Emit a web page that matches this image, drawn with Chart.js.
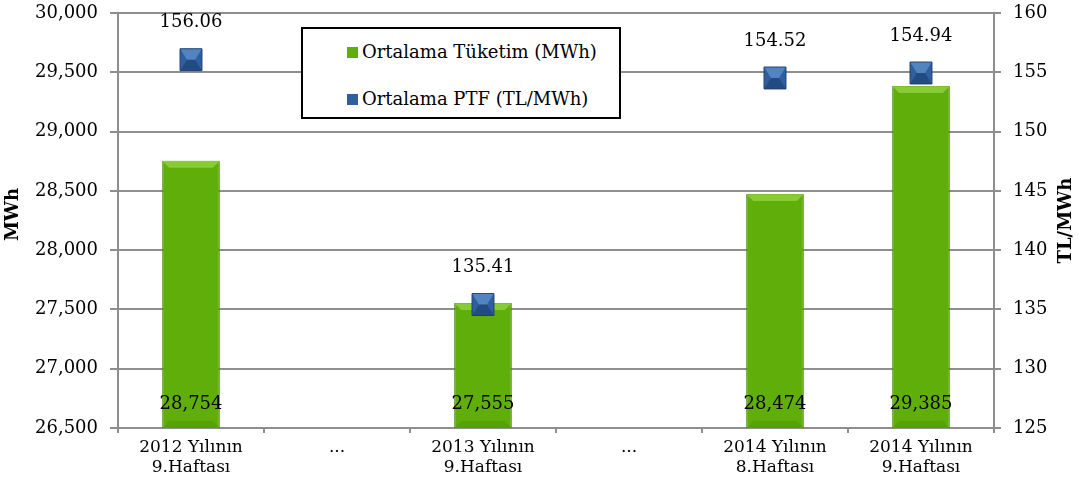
<!DOCTYPE html>
<html>
<head>
<meta charset="utf-8">
<script src="https://cdn.jsdelivr.net/npm/chart.js@4/dist/chart.umd.min.js"></script>
<style>
  html, body { margin: 0; padding: 0; background: #fff; }
  #wrap { position: relative; width: 1079px; height: 496px; }
  #legend {
    position: absolute; left: 301px; top: 27px; width: 316px; height: 88px;
    border: 2px solid #000; background: #fff;
    font-family: 'DejaVu Serif', serif; font-size: 18px; color: #000;
  }
  #legend .item { position: absolute; left: 44px; white-space: nowrap; line-height: 22px; }
  #legend .sw { display: inline-block; width: 11px; height: 11px; margin-right: 4px; vertical-align: 0px; }
</style>
</head>
<body>
<div id="wrap">
  <canvas id="chart" width="1079" height="496"></canvas>
  <div id="legend"></div>
</div>
<script>
  // ── Data ──
  var categories = [
    ['2012 Yılının', '9.Haftası'],
    '...',
    ['2013 Yılının', '9.Haftası'],
    '...',
    ['2014 Yılının', '8.Haftası'],
    ['2014 Yılının', '9.Haftası']
  ];
  var consumption = [28754, null, 27555, null, 28474, 29385];   // MWh
  var ptf = [156.06, null, 135.41, null, 154.52, 154.94];         // TL/MWh
  var seriesNames = ['Ortalama Tüketim (MWh)', 'Ortalama PTF (TL/MWh)'];
  var leftAxis = { min: 26500, max: 30000, step: 500, title: 'MWh' };
  var rightAxis = { min: 125, max: 160, step: 5, title: 'TL/MWh' };

  var FONT = "'DejaVu Serif', serif";
  var gridGray = '#8e8e8e';
  var green = '#5fae0a';
  var blue = '#2f5f9e';

  Chart.defaults.font.family = FONT;
  Chart.defaults.font.size = 18;
  Chart.defaults.color = '#000';

  function fmtThousands(v) {
    return Math.round(v).toString().replace(/\B(?=(\d{3})+(?!\d))/g, ',');
  }

  // bar fill: horizontal gradient for the glossy column look
  function barFill(context) {
    var chart = context.chart;
    var el = context.element;
    if (!chart.chartArea || !el || !isFinite(el.x) || !isFinite(el.width)) return green;
    var x0 = el.x - el.width / 2, x1 = el.x + el.width / 2;
    var g = chart.ctx.createLinearGradient(x0, 0, x1, 0);
    g.addColorStop(0, '#6ec414');
    g.addColorStop(0.12, '#64b40b');
    g.addColorStop(0.85, '#5cab08');
    g.addColorStop(1, '#417e04');
    return g;
  }

  // ── Bevel decoration on bars and markers ──
  var bevelPlugin = {
    id: 'bevel',
    afterDatasetDraw: function (chart, args) {
      var ctx = chart.ctx;
      var meta = args.meta;
      var area = chart.chartArea;
      ctx.save();
      meta.data.forEach(function (el, i) {
        if (meta.type === 'bar') {
          if (consumption[i] == null) return;
          var l = el.x - el.width / 2, r = el.x + el.width / 2, t = el.y, e = 7;
          var b = Math.min(el.base, area.bottom);
          ctx.fillStyle = 'rgba(170,230,90,0.55)';
          ctx.beginPath();
          ctx.moveTo(l, t); ctx.lineTo(r, t); ctx.lineTo(r - e, t + e); ctx.lineTo(l + e, t + e); ctx.closePath();
          ctx.fill();
          ctx.fillStyle = 'rgba(40,90,0,0.15)';
          ctx.beginPath();
          ctx.moveTo(l, b); ctx.lineTo(r, b); ctx.lineTo(r - e, b - e); ctx.lineTo(l + e, b - e); ctx.closePath();
          ctx.fill();
        } else {
          if (ptf[i] == null) return;
          var s = 10.5, x = el.x, y = el.y, k = 4;
          ctx.fillStyle = 'rgba(120,170,230,0.5)';
          ctx.beginPath();
          ctx.moveTo(x - s, y - s); ctx.lineTo(x + s, y - s); ctx.lineTo(x + k, y); ctx.lineTo(x - k, y); ctx.closePath();
          ctx.fill();
          ctx.fillStyle = 'rgba(10,30,70,0.3)';
          ctx.beginPath();
          ctx.moveTo(x - s, y + s); ctx.lineTo(x + s, y + s); ctx.lineTo(x + k, y); ctx.lineTo(x - k, y); ctx.closePath();
          ctx.fill();
        }
      });
      ctx.restore();
    }
  };

  // ── Value labels ──
  var valueLabels = {
    id: 'valueLabels',
    afterDatasetsDraw: function (chart) {
      var ctx = chart.ctx;
      var area = chart.chartArea;
      ctx.save();
      ctx.font = '18px ' + FONT;
      ctx.fillStyle = '#000';
      ctx.textAlign = 'center';
      ctx.textBaseline = 'middle';
      chart.getDatasetMeta(0).data.forEach(function (el, i) {
        if (consumption[i] == null) return;
        ctx.fillText(fmtThousands(consumption[i]), el.x, Math.min(el.base, area.bottom) - 24);
      });
      chart.getDatasetMeta(1).data.forEach(function (el, i) {
        if (ptf[i] == null) return;
        ctx.fillText(ptf[i].toFixed(2), el.x, el.y - 37);
      });
      ctx.restore();
    }
  };

  // ── Axis titles (both read bottom-to-top) ──
  var axisTitles = {
    id: 'axisTitles',
    afterDraw: function (chart) {
      var ctx = chart.ctx, a = chart.chartArea;
      var cy = (a.top + a.bottom) / 2;
      ctx.save();
      ctx.font = 'bold 18px ' + FONT;
      ctx.fillStyle = '#000';
      ctx.textAlign = 'center';
      ctx.textBaseline = 'middle';
      [[13, cy - 6, leftAxis.title], [1066, cy, rightAxis.title]].forEach(function (t) {
        ctx.save();
        ctx.translate(t[0], t[1]);
        ctx.rotate(-Math.PI / 2);
        ctx.fillText(t[2], 0, 0);
        ctx.restore();
      });
      ctx.restore();
    }
  };

  function fixVertical(width) {
    return function (s) {
      s.width = width;
      s.paddingTop = 0;
      s.paddingBottom = 0;
    };
  }

  var chart = new Chart(document.getElementById('chart'), {
    data: {
      labels: categories,
      datasets: [
        {
          type: 'bar',
          label: seriesNames[0],
          data: consumption,
          yAxisID: 'y',
          backgroundColor: barFill,
          borderColor: '#4a8a06',
          borderWidth: 1,
          borderSkipped: false,
          categoryPercentage: 1,
          barPercentage: 0.395,
          order: 2
        },
        {
          type: 'line',
          label: seriesNames[1],
          data: ptf,
          yAxisID: 'y1',
          showLine: false,
          pointStyle: 'rect',
          pointRadius: 15.5,
          pointHoverRadius: 15.5,
          pointBackgroundColor: blue,
          pointBorderColor: '#1e3f6e',
          pointBorderWidth: 1,
          order: 1
        }
      ]
    },
    options: {
      responsive: false,
      animation: false,
      layout: { autoPadding: false, padding: { top: 13, left: 0, right: 0, bottom: 0 } },
      plugins: { legend: { display: false }, tooltip: { enabled: false } },
      scales: {
        x: {
          offset: true,
          grid: { display: true, drawOnChartArea: false, offset: true, color: gridGray, lineWidth: 2, tickLength: 5 },
          border: { color: gridGray, width: 2 },
          ticks: { color: '#000', padding: 4, maxRotation: 0, autoSkip: false, font: { size: 17 } },
          afterFit: function (s) { s.height = 68; }
        },
        y: {
          position: 'left',
          min: leftAxis.min, max: leftAxis.max,
          grid: { color: gridGray, lineWidth: 2, tickLength: 8 },
          border: { color: gridGray, width: 2 },
          ticks: {
            stepSize: leftAxis.step, padding: 12, color: '#000',
            callback: function (v) { return fmtThousands(v); }
          },
          afterFit: fixVertical(118)
        },
        y1: {
          position: 'right',
          min: rightAxis.min, max: rightAxis.max,
          grid: { drawOnChartArea: false, color: gridGray, lineWidth: 2, tickLength: 7 },
          border: { color: gridGray, width: 2 },
          ticks: { stepSize: rightAxis.step, padding: 12, color: '#000' },
          afterFit: fixVertical(85)
        }
      }
    },
    plugins: [bevelPlugin, valueLabels, axisTitles]
  });

  // ── Legend box (HTML, built from the datasets) ──
  var legendEl = document.getElementById('legend');
  var swatches = [green, blue];
  var rowTops = [12, 59];
  chart.data.datasets.forEach(function (ds, i) {
    var row = document.createElement('div');
    row.className = 'item';
    row.style.top = rowTops[i] + 'px';
    var sw = document.createElement('span');
    sw.className = 'sw';
    sw.style.background = swatches[i];
    row.appendChild(sw);
    row.appendChild(document.createTextNode(ds.label));
    legendEl.appendChild(row);
  });
</script>
</body>
</html>
